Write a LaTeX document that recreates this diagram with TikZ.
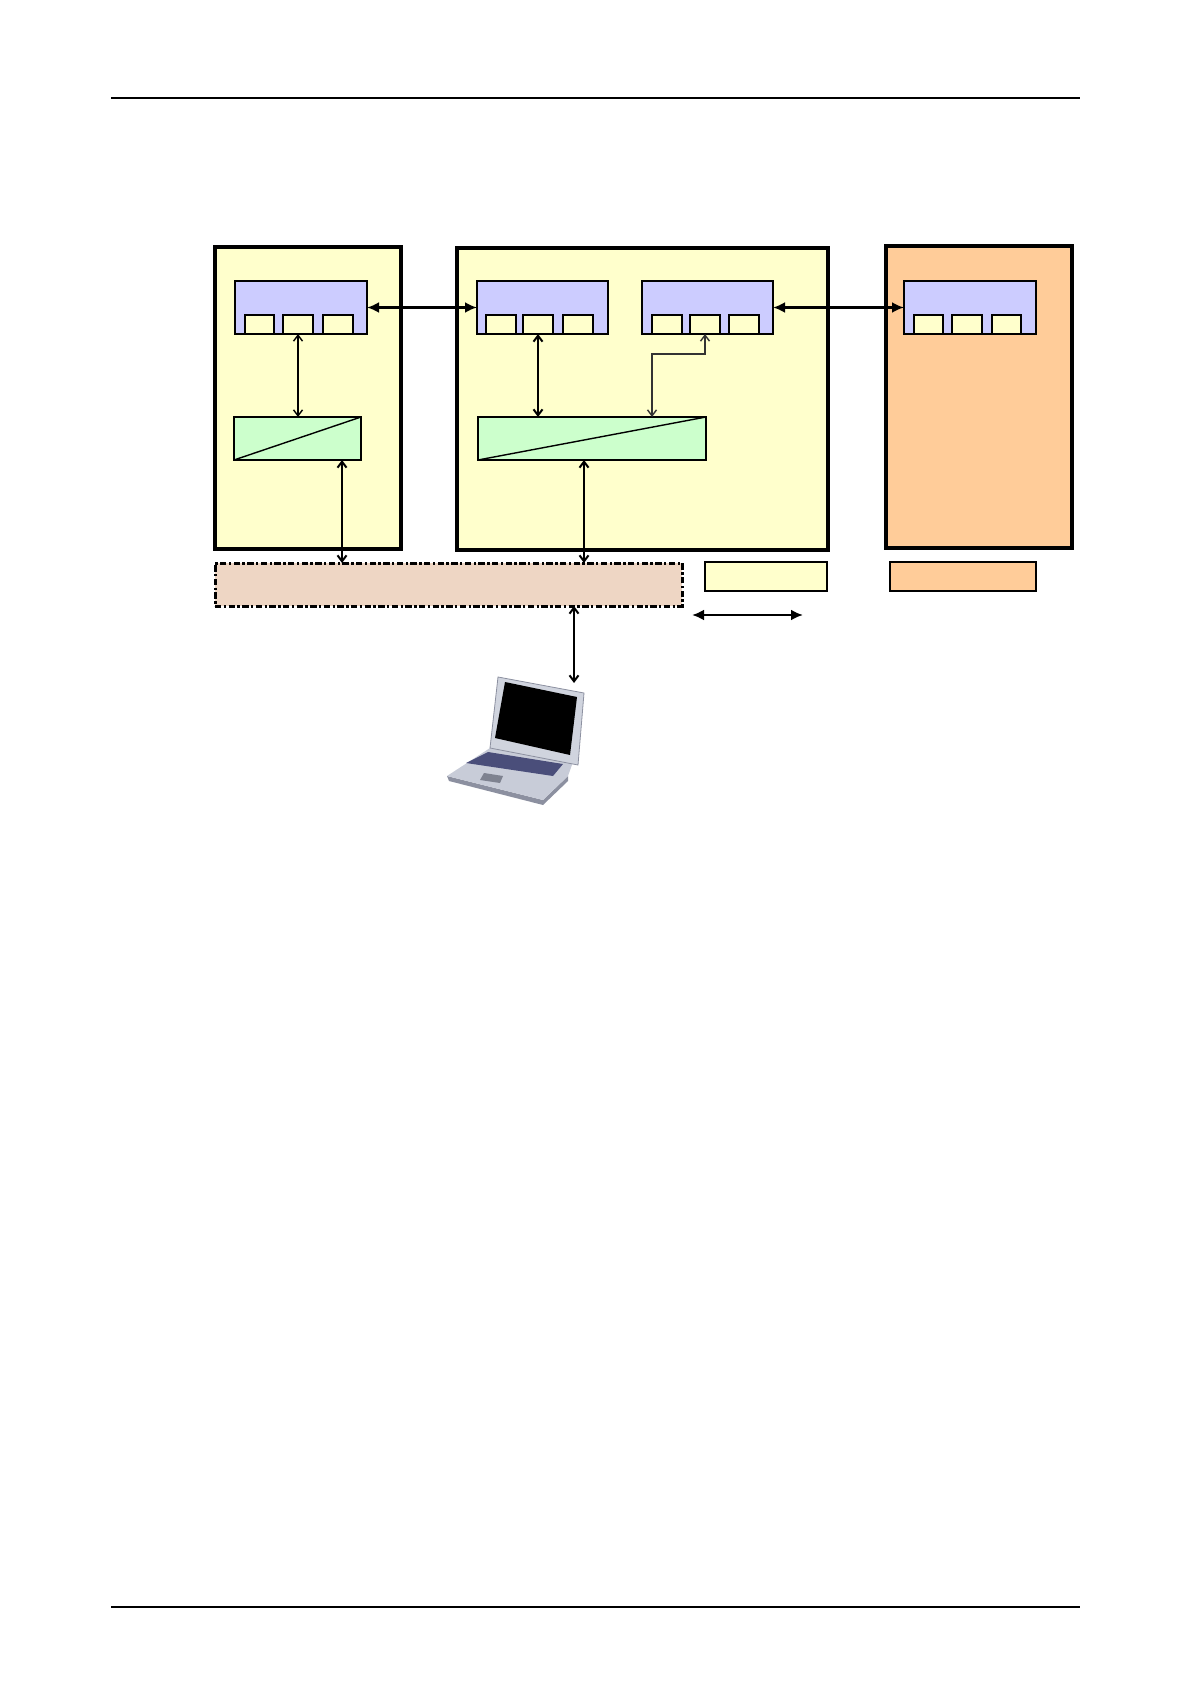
\documentclass[tikz,border=0pt]{standalone}
\usetikzlibrary{arrows.meta,calc}
\definecolor{cyellow}{HTML}{FFFFCC}
\definecolor{cblue}{HTML}{CCCCFF}
\definecolor{cgreen}{HTML}{CCFFCC}
\definecolor{corange}{HTML}{FFCC99}
\definecolor{cbus}{HTML}{EED6C4}
\definecolor{lpgray}{HTML}{C8CCD8}
\definecolor{lpdark}{HTML}{8C90A0}
\definecolor{lpkey}{HTML}{4A4E7A}
\newcommand{\pxbox}[6]{\node[#2, anchor=north west, inner sep=0pt, outer sep=0pt,
  minimum width={(#5-#3)*0.5pt}, minimum height={(#6-#4)*0.5pt}] (#1) at (#3,#4) {};}
\tikzset{
  bigbox/.style={draw=black, line width=1.6pt},
  portbox/.style={draw=black, fill=cblue, line width=0.7pt},
  sq/.style={draw=black, fill=cyellow, line width=0.7pt},
  conv/.style={draw=black, fill=cgreen, line width=0.7pt},
  busbox/.style={draw=black, fill=cbus, line width=1.5pt, dash pattern=on 3.2pt off 1.2pt on 1.2pt off 1.2pt},
  legbox/.style={draw=black, line width=0.6pt},
  thickarr/.style={line width=1.2pt, {Latex[length=6pt,width=5.5pt]}-{Latex[length=6pt,width=5.5pt]}},
  thinarr/.style={line width=0.7pt, {Straight Barb[length=3pt,width=4.5pt]}-{Straight Barb[length=3pt,width=4.5pt]}},
  medarr/.style={line width=1pt, {Straight Barb[length=3pt,width=4.5pt]}-{Straight Barb[length=3pt,width=4.5pt]}},
  rule/.style={line width=1pt}
}
\begin{document}
\begin{tikzpicture}[x=0.5pt,y=-0.5pt]
\useasboundingbox (0,0) rectangle (1190,1684);
% header / footer rules
\draw[rule] (111,98) -- (1080,98);
\draw[rule] (111,1607) -- (1080,1607);
% big boxes
\pxbox{A}{bigbox, fill=cyellow}{215}{247}{401}{549}
\pxbox{B}{bigbox, fill=cyellow}{457}{248}{828}{550}
\pxbox{C}{bigbox, fill=corange}{886}{246}{1072}{548}
% port boxes
\pxbox{P1}{portbox}{235}{281}{367}{334}
\pxbox{P2}{portbox}{477}{281}{608}{334}
\pxbox{P3}{portbox}{642}{281}{773}{334}
\pxbox{P4}{portbox}{904}{281}{1036}{334}
% squares
\pxbox{s11}{sq}{245}{315}{274}{334}
\pxbox{s12}{sq}{283}{315}{313}{334}
\pxbox{s13}{sq}{323}{315}{353}{334}
\pxbox{s21}{sq}{486}{315}{516}{334}
\pxbox{s22}{sq}{523}{315}{553}{334}
\pxbox{s23}{sq}{563}{315}{593}{334}
\pxbox{s31}{sq}{652}{315}{682}{334}
\pxbox{s32}{sq}{690}{315}{720}{334}
\pxbox{s33}{sq}{729}{315}{759}{334}
\pxbox{s41}{sq}{914}{315}{943}{334}
\pxbox{s42}{sq}{952}{315}{982}{334}
\pxbox{s43}{sq}{992}{315}{1021}{334}
% converters
\pxbox{G1}{conv}{234}{417}{361}{460}
\pxbox{G2}{conv}{478}{417}{706}{460}
\draw[line width=0.7pt] (G1.south west) -- (G1.north east);
\draw[line width=0.7pt] (G2.south west) -- (G2.north east);
% bus
\pxbox{bus}{busbox}{215}{563}{682}{606}
% legend
\pxbox{L1}{legbox, fill=cyellow}{705}{562}{827}{591}
\pxbox{L2}{legbox, fill=corange}{890}{562}{1036}{591}
\coordinate (la) at (692,615);
\coordinate (lb) at (803,615);
\draw[thickarr] (la) -- (lb);
% connectors
\draw[thickarr] (P1.east) -- (P2.west);
\draw[thickarr] (P3.east) -- (P4.west);
\draw[thinarr] (s12.south) -- (s12.south |- G1.north);
\draw[medarr] (s22.south) -- (s22.south |- G2.north);
\coordinate (x1) at (342,0);
\coordinate (x2) at (584,0);
\draw[medarr] (G1.south -| x1) -- (bus.north -| x1);
\draw[medarr] (G2.south -| x2) -- (bus.north -| x2);
\coordinate (kink) at (652,354);
\draw[thinarr, draw={black!80}] (s32.south) |- (kink) -- (kink |- G2.north);
% laptop
\coordinate (lt) at (574,683);
\coordinate (lbtop) at (574,610);
\draw[medarr] (bus.south -| lbtop) -- (lt);
% laptop drawing: base
\fill[lpdark] (447,776) -- (543,800) -- (568,776) -- (568,781) -- (543,805) -- (449,781) -- cycle;
\fill[lpgray] (447,776) -- (490,748) -- (573,762) -- (568,776) -- (543,800) -- cycle;
\fill[lpkey] (488,752) -- (563,764) -- (553,776) -- (466,763) -- cycle;
\fill[lpdark!90!black] (484,773) -- (503,776) -- (500,783) -- (480,780) -- cycle;
% lid
\fill[lpgray!85!white] (498,677) -- (584,693) -- (578,765) -- (490,748) -- cycle;
\draw[lpdark, line width=0.4pt] (498,677) -- (584,693) -- (578,765) -- (490,748) -- cycle;
\fill[black] (505,682) -- (577,697) -- (570,755) -- (495,738) -- cycle;
\end{tikzpicture}
\end{document}
